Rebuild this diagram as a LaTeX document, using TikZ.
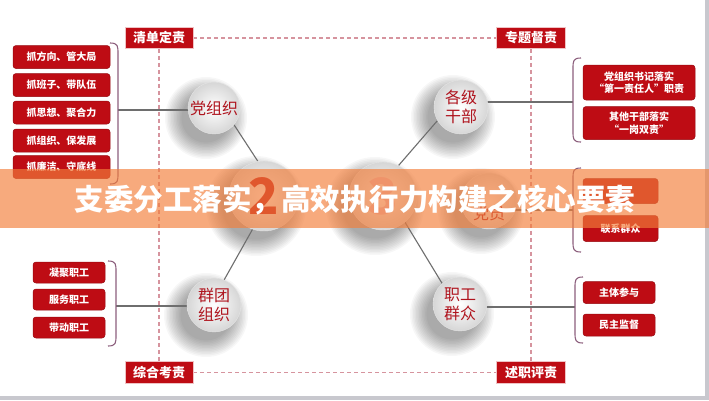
\documentclass[tikz,border=0pt]{standalone}
\usepackage{fontspec}
\newfontfamily\cjk{Noto Sans CJK SC}
\usetikzlibrary{calc}
\definecolor{boxred}{RGB}{190,12,20}
\definecolor{txtred}{RGB}{175,20,30}
\definecolor{dashc}{RGB}{214,148,158}
\definecolor{linec}{RGB}{110,110,110}
\definecolor{brc}{RGB}{140,95,125}
\definecolor{bannerc}{RGB}{243,126,58}
\definecolor{framec}{RGB}{200,200,206}
\definecolor{pinkc}{RGB}{232,190,200}
\pgfdeclarelayer{shadowl}
\pgfdeclarelayer{bg}
\pgfsetlayers{shadowl,bg,main}
\begin{document}
\begin{tikzpicture}[x=1pt,y=-1pt, font=\cjk,
  tag/.style={fill=boxred, draw=white!75!boxred, line width=0.6pt, text=white, minimum width=68pt, minimum height=21pt, inner sep=0pt, font=\cjk\bfseries\fontsize{13}{15}\selectfont},
  itembox/.style={fill=boxred, draw=boxred!80!black, line width=0.5pt, rounded corners=3pt, text=white, inner sep=0pt, align=center, font=\cjk\bfseries\fontsize{10}{12.5}\selectfont},
  orb/.style={circle, inner sep=0pt, inner color=white, outer color=black!16, draw=black!10, line width=0.4pt, text=txtred, align=center, font=\cjk\fontsize{16}{19}\selectfont},
  numfont/.style={font=\cjk\bfseries\fontsize{50}{50}\selectfont},
  conn/.style={draw=linec, line width=1.1pt},
  dashline/.style={draw=dashc, line width=1.3pt, dash pattern=on 4pt off 3pt},
  bracket/.style={draw=brc, line width=1.1pt},
]
\useasboundingbox (0,0) rectangle (709,400);
\begin{pgfonlayer}{shadowl}
\fill[white] (0,0) rectangle (709,400);
\fill[framec] (0,396) rectangle (709,400);
\fill[framec] (705,0) rectangle (709,400);
\foreach \x/\y/\r in {214/108/26, 461/107/27, 214/305/27, 460/304/27, 264/196/35, 383/196/34, 489/201/28}
  {\foreach \k in {0,...,11}
    \fill[black, opacity=0.03] (\x-8,\y+10) circle (\r+15-\k*1.5);}
\end{pgfonlayer}

% corner tags
\node[tag] (qd) at (159,38) {清单定责};
\node[tag, minimum width=69pt] (zt) at (531,38) {专题督责};
\node[tag, minimum height=22pt] (zh) at (159,372.5) {综合考责};
\node[tag, minimum width=69pt, minimum height=22pt] (sz) at (531,372.5) {述职评责};

\begin{pgfonlayer}{bg}
\draw[dashline] (qd.east) -- (zt.west);
\draw[dashline] (qd.south) -- (zh.north);
\draw[dashline] (zt.south) -- (sz.north);
\draw[dashline] (zh.east) -- (sz.west);
\end{pgfonlayer}

% circles
\node[orb, minimum size=52pt] (dzz) at (214,108) {党组织};
\node[orb, minimum size=54pt] (gj) at (461,107) {各级\\干部};
\node[orb, minimum size=54pt] (qt) at (214,305) {群团\\组织};
\node[orb, minimum size=54pt] (zg) at (460,304) {职工\\群众};
\node[orb, minimum size=70pt, text=boxred, numfont] (c2) at (264,196) {2};
\node[orb, minimum size=68pt, text=pinkc, numfont] (c3) at (383,196) {3};
\node[orb, minimum size=56pt] (dy) at (489,201) {};
\node[text=txtred, inner sep=0pt, font=\cjk\fontsize{16}{19}\selectfont] (dyt) at (489,213) {党员};

% item boxes left
\node[itembox, minimum width=97pt, minimum height=23pt] (l1) at (61.5,57) {抓方向、管大局};
\node[itembox, minimum width=97pt, minimum height=23pt] (l2) at (61.5,85) {抓班子、带队伍};
\node[itembox, minimum width=97pt, minimum height=23pt] (l3) at (61.5,112.5) {抓思想、聚合力};
\node[itembox, minimum width=97pt, minimum height=23pt] (l4) at (61.5,140.5) {抓组织、保发展};
\node[itembox, minimum width=97pt, minimum height=23pt] (l5) at (61.5,167) {抓廉洁、守底线};

\node[itembox, minimum width=72pt, minimum height=21pt] (m1) at (69,272.5) {凝聚职工};
\node[itembox, minimum width=72pt, minimum height=21pt] (m2) at (69,299.5) {服务职工};
\node[itembox, minimum width=72pt, minimum height=21pt] (m3) at (69,327.5) {带动职工};

% item boxes right
\node[itembox, minimum width=112pt, minimum height=35pt] (r1) at (639,82.5) {党组织书记落实\\“第一责任人”职责};
\node[itembox, minimum width=112pt, minimum height=33pt] (r2) at (639,123) {其他干部落实\\“一岗双责”};
\node[itembox, minimum width=75pt, minimum height=25pt] (r3) at (620.5,191) {};
\node[itembox, minimum width=75pt, minimum height=26pt] (r4) at (620.5,228.5) {联系群众};
\node[itembox, minimum width=72pt, minimum height=22pt] (r5) at (619,292.5) {主体参与};
\node[itembox, minimum width=72pt, minimum height=22pt] (r6) at (619,325) {民主监督};

% brackets
\draw[bracket] (110,43) .. controls (118,43) and (118,46) .. (118,54) -- (118,173) .. controls (118,181) and (118,184) .. (110,184);
\draw[bracket] (108,261) .. controls (116,261) and (116,264) .. (116,272) -- (116,335) .. controls (116,343) and (116,346) .. (108,346);
\draw[bracket] (581,58) .. controls (573,58) and (573,61) .. (573,69) -- (573,131) .. controls (573,139) and (573,142) .. (581,142);
\draw[bracket] (581,168) .. controls (573,168) and (573,171) .. (573,179) -- (573,241) .. controls (573,249) and (573,252) .. (581,252);
\draw[bracket] (583,277) .. controls (575,277) and (575,280) .. (575,288) -- (575,332) .. controls (575,340) and (575,343) .. (583,343);

\coordinate (bl1) at (118,110);
\coordinate (bl2) at (116,306);
\coordinate (br1) at (573,102);
\coordinate (br2) at (573,210);
\coordinate (br3) at (575,307);

% connectors
\begin{pgfonlayer}{bg}
\draw[conn] (bl1) -- (bl1 -| dzz.center);
\draw[conn] (bl2) -- (bl2 -| qt.center);
\draw[conn] (br1) -- (br1 -| gj.center);
\draw[conn] (br2) -- (br2 -| dy.center);
\draw[conn] (br3) -- (br3 -| zg.center);
\draw[conn] (dzz.-40) -- (c2.100);
\draw[conn] (gj.-150) -- (c3.63);
\draw[conn] (qt.68) -- (c2.-109);
\draw[conn] (zg.131) -- (c3.-50);
\end{pgfonlayer}

% banner and title
\node[fill=bannerc, fill opacity=0.66, draw=none, minimum width=709pt, minimum height=59pt, inner sep=0pt] (banner) at (354.5,198.5) {};
\node[text=white, inner sep=0pt, font=\cjk\bfseries\fontsize{29.5}{30}\selectfont] (title) at (355,199.5) {支委分工落实，高效执行力构建之核心要素};
\end{tikzpicture}
\end{document}
